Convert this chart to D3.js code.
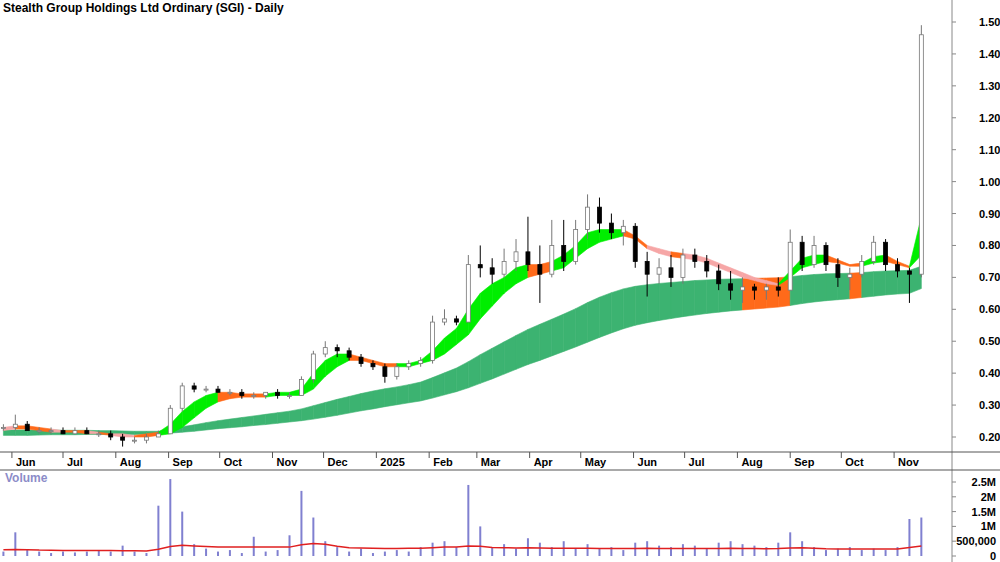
<!DOCTYPE html>
<html lang="en">
<head>
<meta charset="UTF-8">
<title>SGI Daily</title>
<script src="https://d3js.org/d3.v7.min.js"></script>
<style>
  body { margin: 0; background: #fff; }
  text { font-family: "Liberation Sans", Arial, sans-serif; }
  .lbl { font-size: 11px; font-weight: bold; fill: #000; }
</style>
</head>
<body>
<script>
// weekly bars, week starting dates
var weekStart = "2024-05-27";
var opens  = [.23,.23,.24,.22,.22,.22,.21,.22,.21,.21,.20,.19,.19,.20,.21,.29,.36,.35,.35,.34,.34,.33,.33,.34,.33,.33,.38,.46,.48,.47,.45,.43,.42,.39,.42,.43,.44,.56,.57,.56,.74,.73,.71,.75,.78,.74,.71,.80,.75,.85,.92,.87,.84,.86,.75,.71,.73,.70,.77,.75,.72,.68,.66,.67,.66,.67,.66,.81,.74,.80,.74,.70,.71,.75,.81,.74,.72,.71];
var highs  = [.24,.27,.25,.23,.23,.23,.23,.23,.22,.22,.21,.20,.21,.22,.30,.37,.37,.36,.36,.35,.35,.34,.34,.35,.34,.39,.47,.50,.49,.48,.46,.44,.43,.43,.44,.45,.58,.60,.58,.77,.80,.76,.79,.82,.89,.80,.88,.88,.88,.96,.95,.90,.88,.87,.78,.76,.77,.79,.79,.77,.74,.72,.70,.68,.68,.70,.85,.83,.83,.81,.76,.73,.77,.83,.82,.76,.73,1.49];
var lows   = [.22,.22,.22,.21,.21,.21,.21,.21,.20,.19,.17,.18,.18,.20,.21,.28,.34,.34,.34,.33,.32,.32,.32,.32,.32,.33,.37,.45,.45,.44,.42,.41,.37,.38,.41,.42,.43,.55,.55,.56,.70,.68,.70,.72,.72,.62,.70,.72,.74,.82,.84,.82,.80,.73,.64,.68,.67,.68,.73,.70,.66,.63,.62,.63,.63,.64,.66,.72,.73,.72,.67,.66,.70,.74,.72,.70,.62,.70];
var closes = [.23,.24,.22,.22,.22,.21,.22,.21,.21,.20,.19,.19,.20,.21,.29,.36,.35,.35,.34,.34,.33,.33,.34,.33,.33,.38,.46,.48,.47,.45,.43,.42,.39,.42,.43,.44,.56,.57,.56,.74,.73,.71,.75,.78,.74,.71,.80,.75,.85,.92,.87,.84,.86,.75,.71,.73,.70,.77,.75,.72,.68,.66,.67,.66,.67,.66,.81,.74,.80,.74,.70,.71,.75,.81,.74,.72,.71,1.46];

// short-term average band (top/bottom) and its state: g rising, o falling, p weak
var shortHi = [.23,.235,.235,.23,.225,.22,.22,.22,.215,.21,.21,.205,.21,.215,.24,.28,.31,.33,.34,.34,.335,.335,.335,.34,.34,.35,.40,.44,.46,.46,.45,.44,.43,.43,.43,.44,.47,.51,.54,.60,.65,.68,.70,.73,.74,.74,.75,.77,.80,.84,.85,.85,.85,.83,.80,.79,.78,.775,.77,.76,.745,.73,.715,.70,.69,.68,.72,.76,.77,.77,.755,.74,.745,.765,.77,.75,.735,.89];
var shortLo = [.22,.225,.225,.22,.215,.215,.215,.21,.21,.205,.20,.20,.20,.205,.21,.23,.26,.29,.31,.32,.325,.325,.325,.33,.33,.33,.35,.39,.42,.44,.44,.43,.42,.42,.42,.43,.44,.46,.49,.52,.57,.61,.65,.68,.70,.71,.72,.73,.76,.79,.81,.82,.83,.82,.79,.775,.765,.76,.755,.745,.73,.715,.70,.69,.68,.675,.70,.73,.74,.75,.745,.735,.735,.745,.75,.74,.73,.77];
var shortState = ("ppooopoopoppoo" + "ggggg" + "oooo" + "ggggggg" + "oooo" + "ggggggggggg" + "oo" + "gggggg" +
                  "oo" + "pp" + "o" + "pppppppp" + "gggg" + "ooo" + "gg" + "oo" + "g").split("");

// long-term average band
var longHi = [.222,.222,.222,.222,.222,.221,.221,.221,.220,.220,.219,.218,.218,.218,.225,.232,.238,.245,.251,.256,.261,.266,.271,.276,.281,.288,.298,.308,.318,.327,.336,.344,.351,.357,.364,.372,.386,.401,.416,.436,.458,.478,.498,.518,.537,.553,.569,.585,.602,.621,.638,.652,.664,.672,.677,.681,.684,.687,.690,.692,.694,.695,.696,.697,.698,.699,.702,.706,.709,.711,.712,.713,.715,.718,.720,.721,.722,.735];
var longLo = [.205,.205,.205,.206,.207,.207,.207,.208,.208,.208,.208,.208,.209,.210,.212,.215,.218,.222,.226,.229,.232,.236,.239,.243,.247,.251,.256,.262,.268,.275,.282,.288,.295,.301,.307,.313,.322,.332,.342,.354,.368,.382,.397,.412,.427,.440,.454,.468,.482,.497,.512,.526,.539,.550,.558,.565,.571,.577,.582,.587,.591,.595,.598,.601,.604,.607,.612,.618,.623,.627,.630,.633,.637,.641,.645,.648,.650,.665];
var longState = ("g".repeat(63) + "oooo" + "ggggg" + "o" + "ggggg").split("");

// volume (thousands) and its average
var volume = [150,800,200,150,100,150,120,150,200,150,350,150,100,1700,2600,1500,400,250,150,200,100,650,150,200,700,2200,1300,500,300,150,250,100,150,200,150,300,450,500,300,2400,1000,300,400,250,600,450,300,500,250,400,250,300,200,450,500,350,300,400,350,250,450,500,400,350,300,450,800,500,300,200,250,300,200,250,200,300,1250,1300];
var volAvg = [210,220,215,200,195,190,185,185,190,185,180,175,170,230,320,360,340,320,300,300,300,300,300,300,300,380,420,400,330,280,270,260,255,255,260,265,280,300,300,340,330,290,280,270,275,270,265,265,260,260,255,255,250,255,260,255,250,255,255,250,255,260,255,250,245,250,270,275,260,245,240,240,235,235,235,240,290,340];

var priceTicks = [0.2,0.3,0.4,0.5,0.6,0.7,0.8,0.9,1.0,1.1,1.2,1.3,1.4,1.5];
var volTicks = [0,500,1000,1500,2000,2500];
var volTickLabels = ["0","500,000","1M","1.5M","2M","2.5M"];
var monthTicks = ["2024-06-01","2024-07-01","2024-08-01","2024-09-01","2024-10-01","2024-11-01","2024-12-01","2025-01-01","2025-02-01","2025-03-01","2025-04-01","2025-05-01","2025-06-01","2025-07-01","2025-08-01","2025-09-01","2025-10-01","2025-11-01"];
var monthLabels = ["Jun","Jul","Aug","Sep","Oct","Nov","Dec","2025","Feb","Mar","Apr","May","Jun","Jul","Aug","Sep","Oct","Nov"];

var W = 1000, H = 562, plotR = 952;
var parse = d3.timeParse("%Y-%m-%d");
var t0 = parse(weekStart);
var dates = closes.map(function(d, i) { return d3.timeDay.offset(t0, i * 7); });

var x = d3.scaleTime().domain([parse("2024-05-25"), parse("2025-12-05")]).range([0, plotR]);
var y = d3.scaleLinear().domain([0.2, 1.5]).range([437, 22]);
var yv = d3.scaleLinear().domain([0, 2500]).range([556, 482]);

var svg = d3.select("body").append("svg").attr("width", W).attr("height", H);

// frame lines
svg.append("line").attr("x1", plotR).attr("x2", plotR).attr("y1", 0).attr("y2", 562).attr("stroke", "#888");
svg.append("line").attr("x1", 0).attr("x2", W).attr("y1", 452).attr("y2", 452).attr("stroke", "#555");
svg.append("line").attr("x1", 0).attr("x2", W).attr("y1", 470).attr("y2", 470).attr("stroke", "#555");

var colShort = {g: "#00ee00", o: "#ff6a1a", p: "#f6a6a6"};
var colLong = {g: "#3cb371", o: "#ff6a1a"};

function bandSegments(hi, lo, state, cols) {
  for (var i = 0; i < hi.length - 1; i++) {
    var seg = [i, i + 1];
    svg.append("path")
      .datum(seg)
      .attr("fill", cols[state[i + 1]])
      .attr("stroke", cols[state[i + 1]])
      .attr("stroke-width", 0.6)
      .attr("d", d3.area()
        .x(function(j) { return x(dates[j]); })
        .y0(function(j) { return y(lo[j]); })
        .y1(function(j) { return y(hi[j]); }));
  }
}
bandSegments(longHi, longLo, longState, colLong);
bandSegments(shortHi, shortLo, shortState, colShort);

// candles
var cw = 4;
var g = svg.append("g");
closes.forEach(function(c, i) {
  var cx = x(dates[i]), o = opens[i], up = c >= o;
  g.append("line").attr("x1", cx).attr("x2", cx)
    .attr("y1", y(highs[i])).attr("y2", y(lows[i]))
    .attr("stroke", up ? "#777" : "#000").attr("stroke-width", 1);
  g.append("rect")
    .attr("x", cx - cw / 2).attr("width", cw)
    .attr("y", y(Math.max(o, c))).attr("height", Math.max(1, Math.abs(y(o) - y(c))))
    .attr("fill", up ? "#fff" : "#000")
    .attr("stroke", up ? "#777" : "#000").attr("stroke-width", 0.8);
});

// price axis
var ya = svg.append("g");
priceTicks.forEach(function(p) {
  ya.append("line").attr("x1", plotR).attr("x2", plotR + 4).attr("y1", y(p)).attr("y2", y(p)).attr("stroke", "#888");
  ya.append("text").attr("class", "lbl").attr("x", 979).attr("y", y(p) + 4).text(p.toFixed(2));
});

// month axis
monthTicks.forEach(function(m, i) {
  var mx = x(parse(m));
  svg.append("line").attr("x1", mx).attr("x2", mx).attr("y1", 452).attr("y2", 458).attr("stroke", "#555");
  svg.append("text").attr("class", "lbl").attr("x", mx + 4).attr("y", 466).attr("font-size", 12).text(monthLabels[i]);
});

// volume
svg.append("text").attr("x", 5).attr("y", 482).attr("font-size", 12).attr("font-weight", "bold")
  .attr("fill", "#8c8cc8").text("Volume");
volume.forEach(function(v, i) {
  var vx = x(dates[i]);
  svg.append("rect").attr("x", vx - 1).attr("width", 2)
    .attr("y", yv(v)).attr("height", yv(0) - yv(v)).attr("fill", "#8080d0");
});
svg.append("path").datum(volAvg)
  .attr("fill", "none").attr("stroke", "#e02020").attr("stroke-width", 1.5)
  .attr("d", d3.line().x(function(d, i) { return x(dates[i]); }).y(function(d) { return yv(d); }));
volTicks.forEach(function(v, i) {
  svg.append("line").attr("x1", plotR).attr("x2", plotR + 4).attr("y1", yv(v)).attr("y2", yv(v)).attr("stroke", "#888");
  svg.append("text").attr("class", "lbl").attr("x", 996).attr("y", yv(v) + 4)
    .attr("text-anchor", "end").text(volTickLabels[i]);
});

// title
svg.append("text").attr("x", 3).attr("y", 12).attr("font-size", 12).attr("font-weight", "bold")
  .text("Stealth Group Holdings Ltd Ordinary (SGI) - Daily");
</script>
</body>
</html>
